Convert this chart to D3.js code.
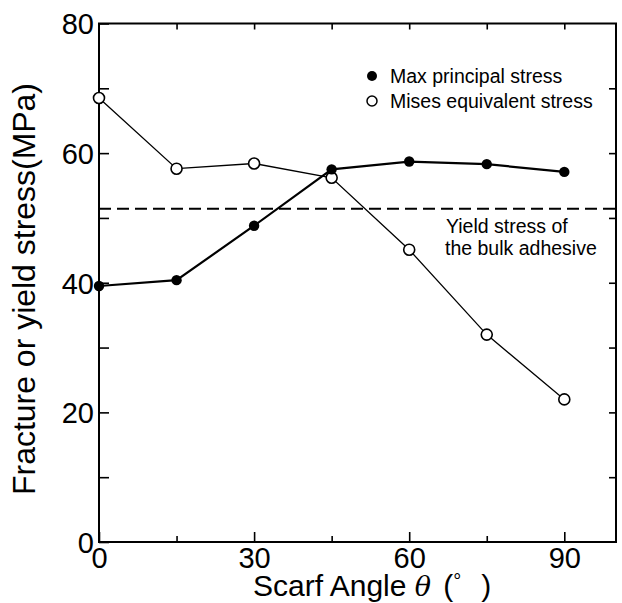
<!DOCTYPE html>
<html>
<head>
<meta charset="utf-8">
<script src="https://cdn.jsdelivr.net/npm/d3@7"></script>
<style>
  body { margin: 0; background: #fff; }
  svg { font-family: "Liberation Sans", Arial, Helvetica, sans-serif; }
</style>
</head>
<body>
<svg id="vis" width="622" height="603"></svg>
<script>
// scarf angle (deg)
var angles = [0, 15, 30, 45, 60, 75, 90];
// max principal stress (MPa), filled circles
var maxPrincipal = [39.5, 40.4, 48.8, 57.5, 58.7, 58.3, 57.1];
// Mises equivalent stress (MPa), open circles
var mises = [68.5, 57.6, 58.4, 56.2, 45.1, 32.0, 22.0];
// yield stress of the bulk adhesive
var yieldStress = 51.4;

var xTicks = [0, 30, 60, 90];
var xMinor = [15, 45, 75];
var yTicks = [0, 20, 40, 60, 80];
var yMinor = [10, 30, 50, 70];

var svg = d3.select("#vis"),
	margin = {top: 23.5, right: 6, bottom: 61, left: 99},
	width = 622,
	height = 603;

var x = d3.scaleLinear().domain([0, 100]).range([margin.left, width - margin.right]);
var y = d3.scaleLinear().domain([0, 80]).range([height - margin.bottom, margin.top]);

// frame
svg.append("rect")
	.attr("x", x(0)).attr("y", y(80))
	.attr("width", x(100) - x(0)).attr("height", y(0) - y(80))
	.attr("fill", "none").attr("stroke", "#000").attr("stroke-width", 2);

// bottom axis: ticks point inward, labels below
var bottom = svg.append("g").attr("transform", "translate(0," + y(0) + ")");
bottom.call(d3.axisBottom(x).tickValues(xTicks).tickSize(-10).tickPadding(5).tickFormat(d3.format("d")));
svg.append("g").attr("transform", "translate(0," + y(0) + ")")
	.call(d3.axisBottom(x).tickValues(xMinor).tickSize(-6).tickFormat(""));

// top axis
svg.append("g").attr("transform", "translate(0," + y(80) + ")")
	.call(d3.axisTop(x).tickValues([15, 30, 45, 60, 75, 90]).tickSize(-6).tickFormat(""));

// left axis
svg.append("g").attr("transform", "translate(" + x(0) + ",0)")
	.call(d3.axisLeft(y).tickValues(yTicks.concat(yMinor)).tickSize(-10).tickFormat(""));
var left = svg.append("g").attr("transform", "translate(" + x(0) + ",0)");
left.call(d3.axisLeft(y).tickValues(yTicks).tickSize(0).tickPadding(5).tickFormat(d3.format("d")));

// right axis
svg.append("g").attr("transform", "translate(" + x(100) + ",0)")
	.call(d3.axisRight(y).tickValues(d3.range(10, 80, 10)).tickSize(-7).tickFormat(""));

svg.selectAll(".domain").remove();
svg.selectAll(".tick line").attr("stroke", "#000").attr("stroke-width", 1.6);
svg.selectAll(".tick text").attr("font-size", 29).attr("fill", "#000")
	.attr("font-family", "'Liberation Sans', Arial, sans-serif");
bottom.selectAll(".tick text").attr("dy", "0.71em");
left.selectAll(".tick text").attr("dy", "0.36em");

// yield stress dashed line
svg.append("line")
	.attr("x1", x(0)).attr("x2", x(100))
	.attr("y1", y(yieldStress)).attr("y2", y(yieldStress))
	.attr("stroke", "#000").attr("stroke-width", 2)
	.attr("stroke-dasharray", "12,6");

var data1 = angles.map(function(a, i) { return [a, maxPrincipal[i]]; });
var data2 = angles.map(function(a, i) { return [a, mises[i]]; });

var lineGen = d3.line()
	.x(function(d) { return x(d[0]); })
	.y(function(d) { return y(d[1]); });

svg.append("path").attr("d", lineGen(data2))
	.attr("fill", "none").attr("stroke", "#000").attr("stroke-width", 1.3);
svg.append("path").attr("d", lineGen(data1))
	.attr("fill", "none").attr("stroke", "#000").attr("stroke-width", 2.2);

svg.selectAll("circle.mises")
	.data(data2)
	.enter().append("circle")
	.attr("class", "mises")
	.attr("r", 5.5)
	.attr("cx", function(d) { return x(d[0]); })
	.attr("cy", function(d) { return y(d[1]); })
	.attr("fill", "#fff").attr("stroke", "#000").attr("stroke-width", 1.6);

svg.selectAll("circle.maxp")
	.data(data1)
	.enter().append("circle")
	.attr("class", "maxp")
	.attr("r", 5.2)
	.attr("cx", function(d) { return x(d[0]); })
	.attr("cy", function(d) { return y(d[1]); })
	.attr("fill", "#000");

// legend
svg.append("circle").attr("cx", 372).attr("cy", 76).attr("r", 5).attr("fill", "#000");
svg.append("circle").attr("cx", 372).attr("cy", 101).attr("r", 5)
	.attr("fill", "#fff").attr("stroke", "#000").attr("stroke-width", 1.5);
svg.append("text").attr("x", 390).attr("y", 83).attr("font-size", 19.5).text("Max principal stress");
svg.append("text").attr("x", 390).attr("y", 108).attr("font-size", 19.5).text("Mises equivalent stress");

// annotation
svg.append("text").attr("x", 446).attr("y", 233).attr("font-size", 19.5).text("Yield stress of");
svg.append("text").attr("x", 445).attr("y", 255).attr("font-size", 19.5).text("the bulk adhesive");

// axis titles
var xt = svg.append("text").attr("x", 253).attr("y", 596).attr("font-size", 30);
xt.append("tspan").text("Scarf Angle ");
xt.append("tspan").attr("font-style", "italic").attr("font-family", "'DejaVu Serif', serif").attr("font-size", 27).text("\u03B8");
xt.append("tspan").attr("dx", 4).text(" (");
xt.append("tspan").attr("font-size", 20).attr("dy", -8).text("\u00B0");
xt.append("tspan").attr("dy", 8).attr("dx", 20).text(")");

svg.append("text")
	.attr("transform", "translate(35," + 289 + ") rotate(-90)")
	.attr("text-anchor", "middle")
	.attr("font-size", 31)
	.attr("textLength", 412)
	.attr("lengthAdjust", "spacingAndGlyphs")
	.text("Fracture or yield stress(MPa)");
</script>
</body>
</html>
